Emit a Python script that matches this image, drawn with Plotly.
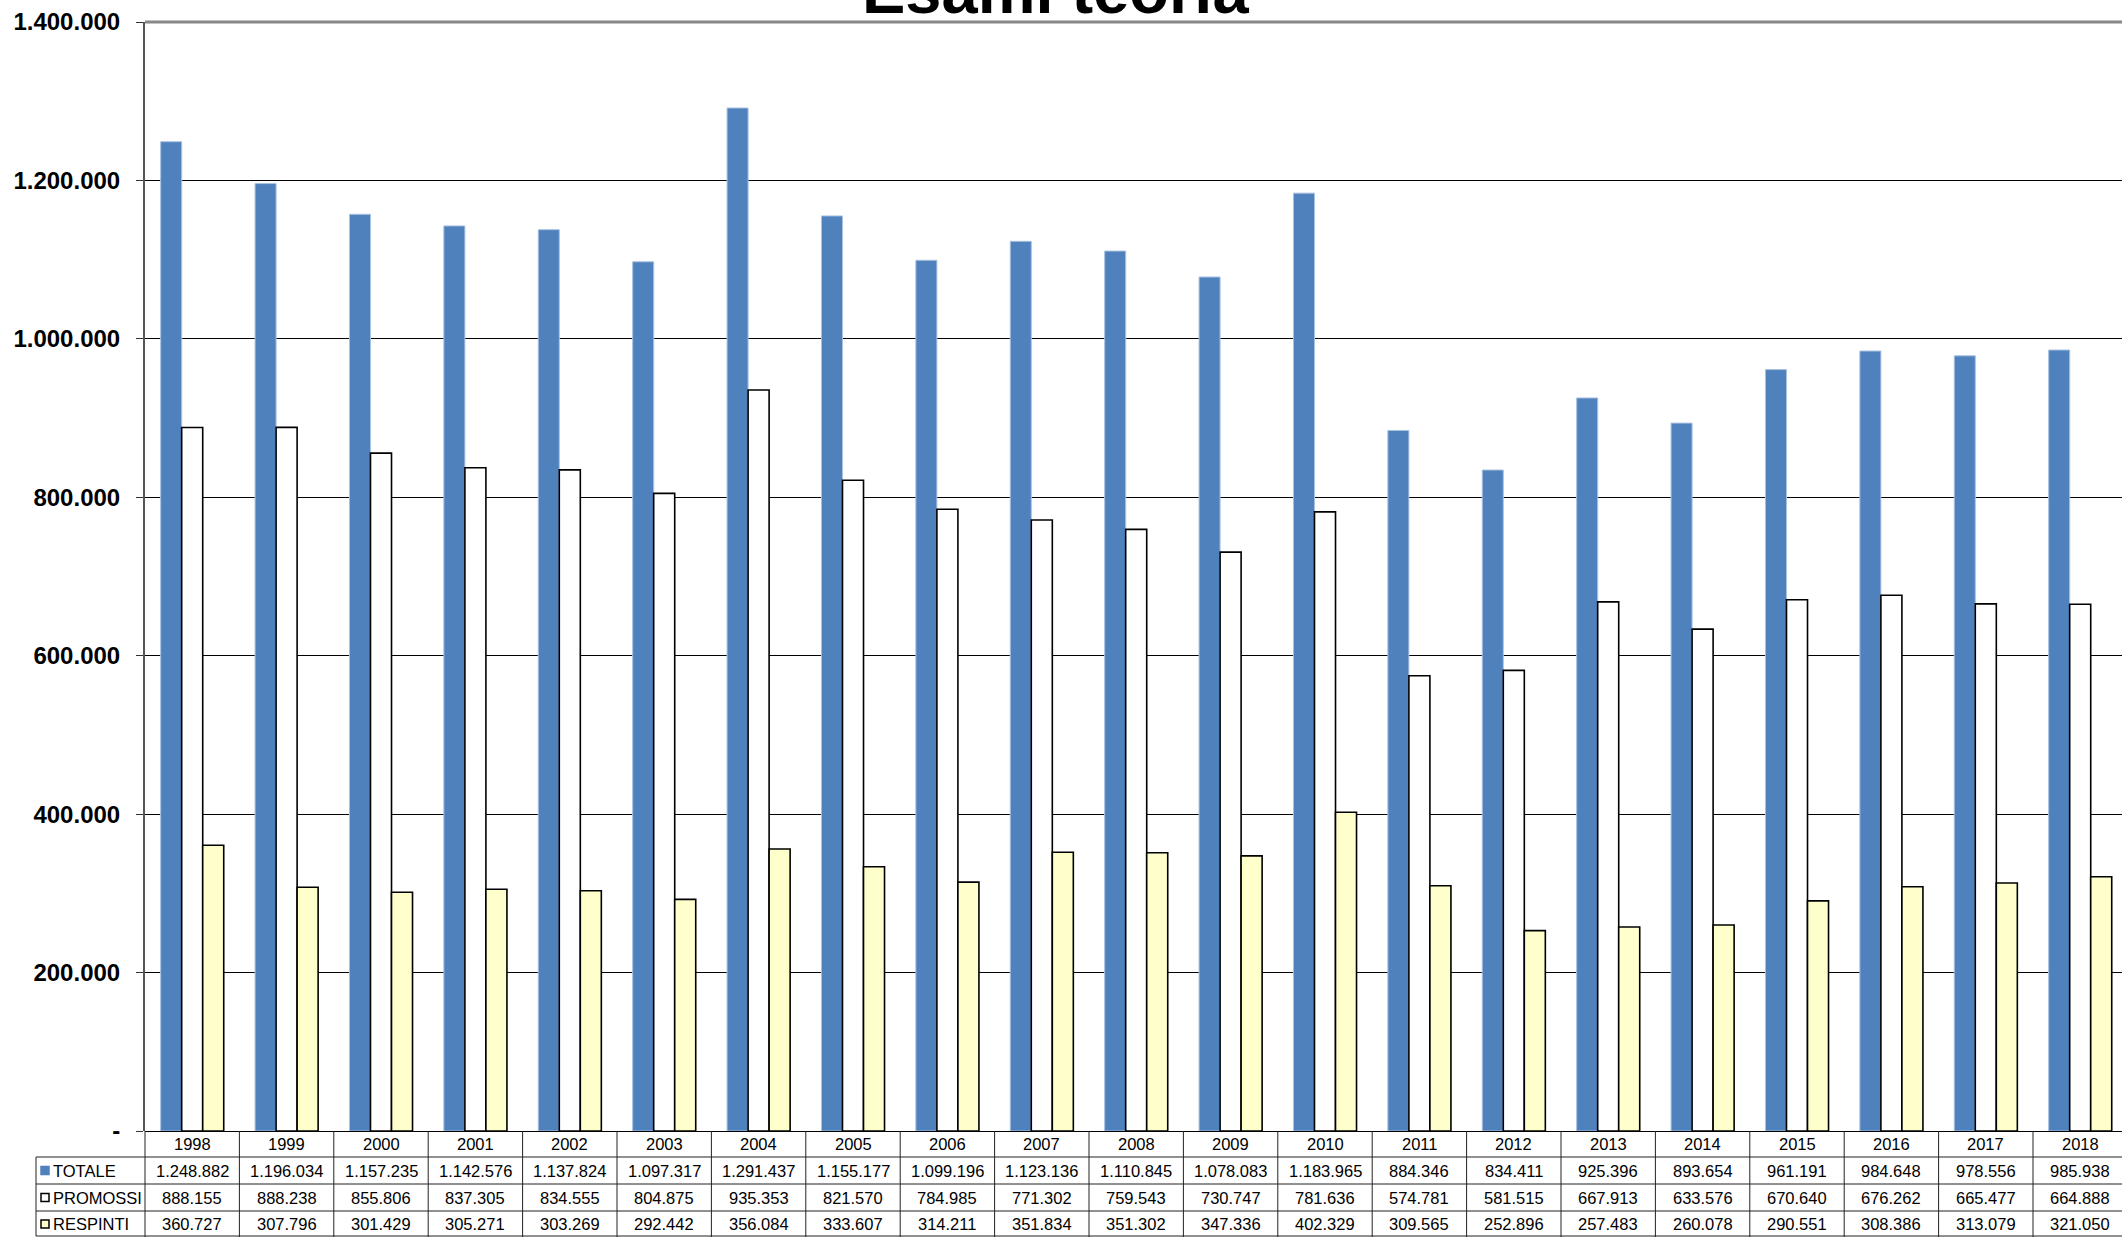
import plotly.graph_objects as go

years = [str(y) for y in range(1998, 2019)]
totale = [1248882, 1196034, 1157235, 1142576, 1137824, 1097317, 1291437, 1155177, 1099196, 1123136,
          1110845, 1078083, 1183965, 884346, 834411, 925396, 893654, 961191, 984648, 978556, 985938]
promossi = [888155, 888238, 855806, 837305, 834555, 804875, 935353, 821570, 784985, 771302,
            759543, 730747, 781636, 574781, 581515, 667913, 633576, 670640, 676262, 665477, 664888]
respinti = [360727, 307796, 301429, 305271, 303269, 292442, 356084, 333607, 314211, 351834,
            351302, 347336, 402329, 309565, 252896, 257483, 260078, 290551, 308386, 313079, 321050]
series_names = ["TOTALE", "PROMOSSI", "RESPINTI"]
tick_vals = [0, 200000, 400000, 600000, 800000, 1000000, 1200000, 1400000]
tick_text = ["-", "200.000", "400.000", "600.000", "800.000", "1.000.000", "1.200.000", "1.400.000"]

W, H = 2122, 1237
L, T, B = 145, 22, 1131  # plot area pixels
band = 94.4
PW, PH = W - L, B - T

def px(x):
    return (x - L) / PW

def py(y):
    return (B - y) / PH

def fmt(v):
    return f"{v:,}".replace(",", ".")

FONT = "Liberation Sans, Arial, Helvetica, sans-serif"
BLUE = "#4F81BD"
YEL = "#FFFFCC"
TSIZE = 16.5

fig = go.Figure()
fig.add_bar(x=years, y=totale, name=series_names[0], marker=dict(color=BLUE, line=dict(color="#A9C1E0", width=1)))
fig.add_bar(x=years, y=promossi, name=series_names[1], marker=dict(color="white", line=dict(color="black", width=1.6)))
fig.add_bar(x=years, y=respinti, name=series_names[2], marker=dict(color=YEL, line=dict(color="black", width=1.6)))

xmax = -0.5 + PW / band

fig.update_layout(
    width=W, height=H,
    margin=dict(l=L, r=0, t=T, b=H - B, pad=0),
    paper_bgcolor="white", plot_bgcolor="white",
    barmode="group", bargap=0.332, bargroupgap=0,
    showlegend=False,
    font=dict(family=FONT, color="black"),
    xaxis=dict(type="category", range=[-0.5, xmax], showticklabels=False, showgrid=False,
               ticks="", showline=False, zeroline=False, fixedrange=True),
    yaxis=dict(range=[0, 1400000], tickvals=tick_vals, ticktext=tick_text,
               showgrid=True, gridcolor="black", gridwidth=1,
               showline=True, linecolor="#555555", linewidth=2,
               ticks="outside", ticklen=7, tickcolor="#333333", tickwidth=1,
               ticklabelstandoff=11,
               tickfont=dict(family=FONT, size=24, color="black", weight="bold"),
               zeroline=True, zerolinecolor="black", zerolinewidth=1),
)

shapes = []
shapes.append(dict(type="line", xref="paper", yref="paper", x0=0, x1=1, y0=1, y1=1,
                   line=dict(color="#888888", width=3)))
row_lines = [1157, 1184, 1211, 1236]
for yl in row_lines:
    shapes.append(dict(type="line", xref="paper", yref="paper", x0=px(36), x1=1, y0=py(yl), y1=py(yl),
                       line=dict(color="#222222", width=1)))
shapes.append(dict(type="line", xref="paper", yref="paper", x0=px(36), x1=px(36), y0=py(1157), y1=py(1236),
                   line=dict(color="#222222", width=1)))
for i in range(len(years) + 1):
    xv = px(L + i * band)
    if xv <= 1:
        shapes.append(dict(type="line", xref="paper", yref="paper", x0=xv, x1=xv, y0=py(B), y1=py(1237),
                           line=dict(color="#222222", width=1)))

row_centers = [1170.5, 1197.5, 1224]
fills = [BLUE, "white", YEL]
borders = [BLUE, "black", "black"]
for rc, fc, bc in zip(row_centers, fills, borders):
    shapes.append(dict(type="rect", xref="paper", yref="paper", x0=px(41), x1=px(49),
                       y0=py(rc + 4), y1=py(rc - 4), fillcolor=fc, line=dict(color=bc, width=1.5)))

fig.update_layout(shapes=shapes)

ann = []
ann.append(dict(text="<b>Esami teoria</b>", xref="paper", yref="paper", x=px(1055), y=py(29),
                xanchor="center", yanchor="bottom", showarrow=False,
                font=dict(family=FONT, size=65, color="black")))
for i, yr in enumerate(years):
    ann.append(dict(text=yr, xref="x", yref="paper", x=i, y=py(1144), xanchor="center", yanchor="middle",
                    showarrow=False, font=dict(family=FONT, size=TSIZE, color="black")))
for name, vals, rc in zip(series_names, [totale, promossi, respinti], row_centers):
    ann.append(dict(text=name, xref="paper", yref="paper", x=px(51), y=py(rc), xanchor="left", yanchor="middle",
                    showarrow=False, font=dict(family=FONT, size=TSIZE, color="black")))
    for i, v in enumerate(vals):
        ann.append(dict(text=fmt(v), xref="x", yref="paper", x=i, y=py(rc), xanchor="center", yanchor="middle",
                        showarrow=False, font=dict(family=FONT, size=TSIZE, color="black")))
fig.update_layout(annotations=ann)

fig.write_html("out.html", config={"displayModeBar": False},
               post_script="document.body.style.margin='0';document.body.style.overflow='hidden';")
